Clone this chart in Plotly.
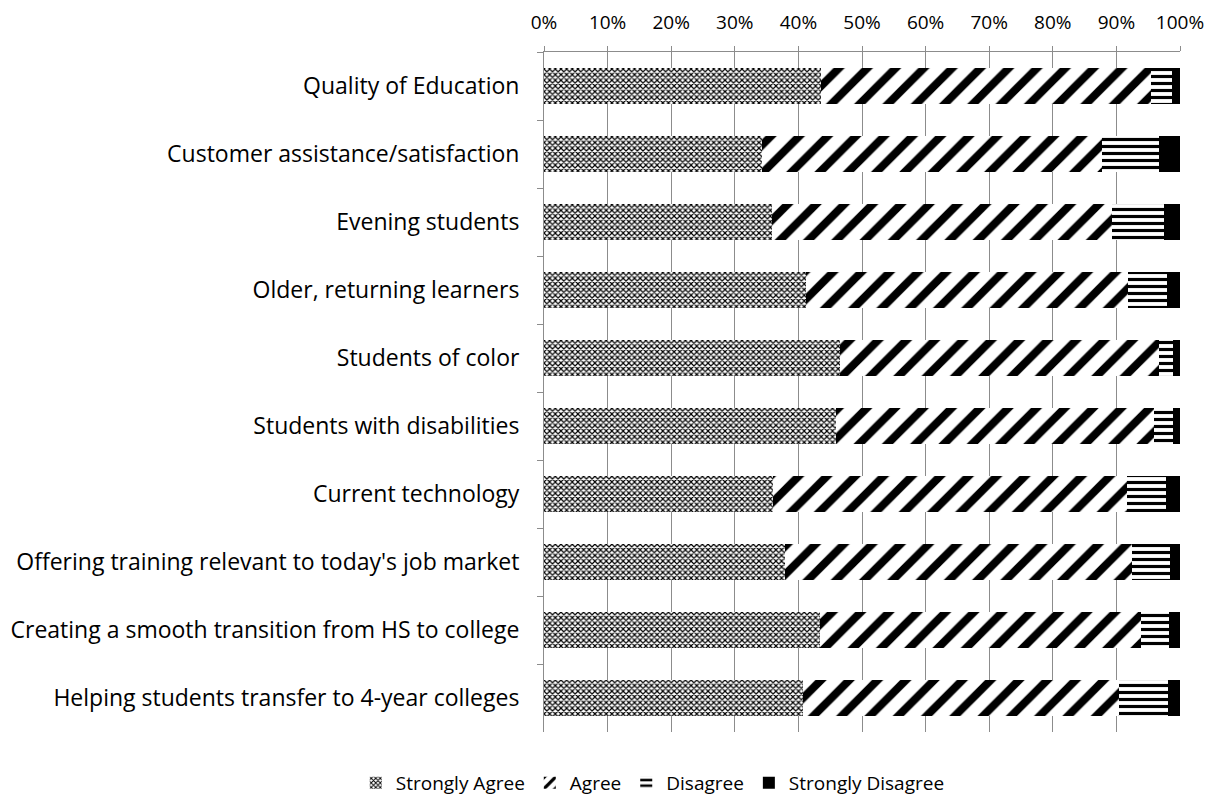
import plotly.graph_objects as go

categories = [
    "Quality of Education",
    "Customer assistance/satisfaction",
    "Evening students",
    "Older, returning learners",
    "Students of color",
    "Students with disabilities",
    "Current technology",
    "Offering training relevant to today's job market",
    "Creating a smooth transition from HS to college",
    "Helping students transfer to 4-year colleges",
]

strongly_agree = [43.5, 34.2, 35.9, 41.2, 46.5, 45.9, 36.0, 37.9, 43.4, 40.7]
agree = [52.0, 53.5, 53.4, 50.7, 50.2, 50.0, 55.6, 54.6, 50.4, 49.7]
disagree = [3.3, 9.0, 8.2, 6.0, 2.2, 3.0, 6.2, 5.9, 4.4, 7.7]
strongly_disagree = [1.2, 3.3, 2.5, 2.1, 1.1, 1.1, 2.2, 1.6, 1.8, 1.9]

series = [
    ("Strongly Agree", strongly_agree, dict(shape="x", size=4, solidity=0.5)),
    ("Agree", agree, dict(shape="/", size=20, solidity=0.4)),
    ("Disagree", disagree, dict(shape="-", size=7, solidity=0.45)),
    ("Strongly Disagree", strongly_disagree, None),
]

fig = go.Figure()
for name, vals, pat in series:
    if pat:
        marker = dict(color="white", line=dict(width=0),
                      pattern=dict(shape=pat["shape"], size=pat["size"],
                                   solidity=pat["solidity"], fgcolor="black",
                                   bgcolor="white", fillmode="replace",
                                   fgopacity=1))
    else:
        marker = dict(color="black", line=dict(width=0))
    fig.add_trace(go.Bar(
        y=categories, x=vals, name=name, orientation="h", marker=marker,
    ))

grey = "#8c8c8c"
fig.update_layout(
    barmode="stack",
    barnorm="percent",
    bargap=0.48,
    width=1214, height=800,
    margin=dict(l=536, r=42, t=44, b=76, autoexpand=False),
    plot_bgcolor="white",
    paper_bgcolor="white",
    font=dict(family="Open Sans, sans-serif", size=19, color="black"),
    legend=dict(orientation="h", x=0.171, xanchor="center", y=-0.075,
                yanchor="middle", font=dict(size=19), traceorder="normal",
                itemwidth=30),
    xaxis=dict(side="top", range=[0, 100], dtick=10, ticksuffix="%",
               showgrid=True, gridcolor=grey, gridwidth=1,
               showline=True, linecolor=grey, ticks="outside",
               ticklen=5, tickcolor=grey, zeroline=False,
               ticklabelstandoff=9, automargin=False),
    yaxis=dict(autorange="reversed", showline=True, linecolor=grey,
               ticks="outside", tickson="boundaries", ticklen=6,
               tickcolor=grey, showgrid=False, ticklabelstandoff=19,
               tickfont=dict(size=23), automargin=False),
)

fig.write_html("out.html")
